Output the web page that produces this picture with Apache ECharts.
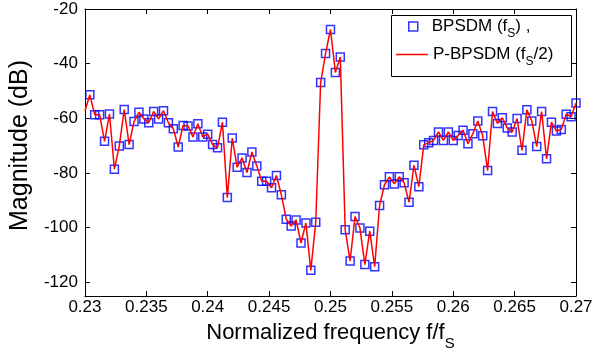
<!DOCTYPE html>
<html>
<head>
<meta charset="utf-8">
<script src="https://cdn.jsdelivr.net/npm/echarts@6/dist/echarts.min.js"></script>
<style>
html,body{margin:0;padding:0;background:#fff;}
#chart{width:610px;height:356px;}
</style>
</head>
<body>
<div id="chart"></div>
<script>
// Frequency grid of the samples (normalized frequency f/fS)
const freqStart = 0.2300;
const freqStep = 0.0004;

// P-BPSDM (fS/2) line values (dB), starting at f = 0.2300
const lineValues = [
  -57.3,
  -51.4, -58.7, -58.7, -68.4, -58.4, -78.6, -70.1, -56.8, -69.6, -61.2,
  -57.8, -60.2, -61.6, -57.5, -60.2, -57.2, -61.6, -63.8, -70.5, -62.6,
  -62.8, -66.8, -62.0, -66.8, -65.8, -69.6, -70.8, -61.4, -89.0, -67.2,
  -77.9, -74.5, -79.8, -72.3, -77.4, -83.0, -83.0, -85.4, -80.9, -88.0,
  -96.9, -99.4, -97.2, -105.6, -98.3, -115.6, -98.0, -46.9, -36.3, -27.5,
  -43.2, -37.6, -100.8, -112.2, -95.9, -100.1, -113.5, -101.3, -114.3, -91.9,
  -84.3, -81.4, -84.0, -81.4, -83.6, -90.7, -77.2, -85.0, -69.7, -68.9,
  -68.1, -65.0, -68.1, -65.0, -68.1, -66.3, -64.4, -69.3, -65.6, -61.0,
  -66.4, -79.1, -57.5, -61.9, -59.8, -63.5, -65.0, -60.1, -71.7, -56.9,
  -61.0, -70.3, -57.5, -74.8, -61.4, -64.6, -64.1, -58.5, -59.4, -54.4
];

// BPSDM (fS) square markers: same samples from f = 0.2304 on
const squareValues = lineValues.slice(1);

const xTicks = [0.23, 0.235, 0.24, 0.245, 0.25, 0.255, 0.26, 0.265, 0.27];
const yTicks = [-120, -100, -80, -60, -40, -20];

const lineData = lineValues.map((v, i) => [freqStart + freqStep * i, v]);
const squareData = squareValues.map((v, i) => [freqStart + freqStep * (i + 1), v]);

const FONT = 'Liberation Sans, Arial, sans-serif';
const chart = echarts.init(document.getElementById('chart'), null, {renderer: 'canvas'});

const subRich = {
  n: {fontSize: 22, fontFamily: FONT, color: '#000', lineHeight: 26, verticalAlign: 'middle'},
  s: {fontSize: 15, fontFamily: FONT, color: '#000', lineHeight: 36, verticalAlign: 'bottom'}
};
const legRich = {
  n: {fontSize: 17, fontFamily: FONT, color: '#000', lineHeight: 20, verticalAlign: 'middle'},
  s: {fontSize: 12, fontFamily: FONT, color: '#000', lineHeight: 27, verticalAlign: 'bottom'}
};

const axisLineStyle = {lineStyle: {color: '#000', width: 1}};

chart.setOption({
  animation: false,
  backgroundColor: '#fff',
  grid: {left: 83, right: 34, top: 9, bottom: 59, containLabel: false},
  graphic: [{
    type: 'rect', z: 50, silent: true,
    shape: {x: 391.5, y: 15.5, width: 180, height: 61},
    style: {fill: '#fff', stroke: '#000', lineWidth: 1}
  }],
  legend: [{
    data: [{name: 'BPSDM', icon: 'rect',
      itemStyle: {color: 'rgba(0,0,0,0)', borderColor: '#0000ff', borderWidth: 1.5}}],
    left: 408, top: 18, padding: 0, z: 60,
    itemWidth: 9, itemHeight: 9,
    formatter: () => '{n|BPSDM (f}{s|S}{n|) ,}',
    textStyle: {rich: legRich, padding: [0, 0, 0, 9]},
    selectedMode: false
  }, {
    data: [{name: 'P-BPSDM', icon: 'rect',
      itemStyle: {color: '#ff0000', borderWidth: 0}}],
    left: 396, top: 46, padding: 0, z: 60,
    itemWidth: 32, itemHeight: 1.5,
    formatter: () => '{n|P-BPSDM (f}{s|S}{n|/2)}',
    textStyle: {rich: legRich},
    selectedMode: false
  }],
  xAxis: [{
    type: 'value', min: 0.23, max: 0.27, position: 'bottom',
    axisLine: axisLineStyle,
    axisTick: {inside: true, length: 5, customValues: xTicks, lineStyle: {color: '#000'}},
    axisLabel: {customValues: xTicks, color: '#000', fontSize: 17, fontFamily: FONT, margin: 3,
      formatter: v => String(Math.round(v * 1000) / 1000)},
    splitLine: {show: false},
    name: '{n|Normalized frequency f/f}{s|S}',
    nameLocation: 'middle', nameGap: 19,
    nameTextStyle: {rich: subRich, verticalAlign: 'top'}
  }, {
    type: 'value', min: 0.23, max: 0.27, position: 'top',
    axisLine: axisLineStyle,
    axisTick: {inside: true, length: 5, customValues: xTicks, lineStyle: {color: '#000'}},
    axisLabel: {show: false},
    splitLine: {show: false}
  }],
  yAxis: [{
    type: 'value', min: -125, max: -20, position: 'left',
    axisLine: axisLineStyle,
    axisTick: {inside: true, length: 5, customValues: yTicks, lineStyle: {color: '#000'}},
    axisLabel: {customValues: yTicks, color: '#000', fontSize: 17, fontFamily: FONT, margin: 7},
    splitLine: {show: false},
    name: 'Magnitude (dB)',
    nameLocation: 'middle', nameGap: 45,
    nameTextStyle: {color: '#000', fontSize: 25, fontFamily: FONT, padding: [0, 0, 0, 14]}
  }, {
    type: 'value', min: -125, max: -20, position: 'right',
    axisLine: axisLineStyle,
    axisTick: {inside: true, length: 5, customValues: yTicks, lineStyle: {color: '#000'}},
    axisLabel: {show: false},
    splitLine: {show: false}
  }],
  series: [{
    name: 'BPSDM', type: 'scatter', data: squareData,
    symbol: 'rect', symbolSize: 8,
    itemStyle: {color: 'rgba(0,0,0,0)', borderColor: '#0000ff', borderWidth: 1.5},
    z: 2
  }, {
    name: 'P-BPSDM', type: 'line', data: lineData,
    symbol: 'none', showSymbol: false,
    lineStyle: {color: '#ff0000', width: 1.5},
    itemStyle: {color: '#ff0000'},
    z: 3
  }]
});
</script>
</body>
</html>
